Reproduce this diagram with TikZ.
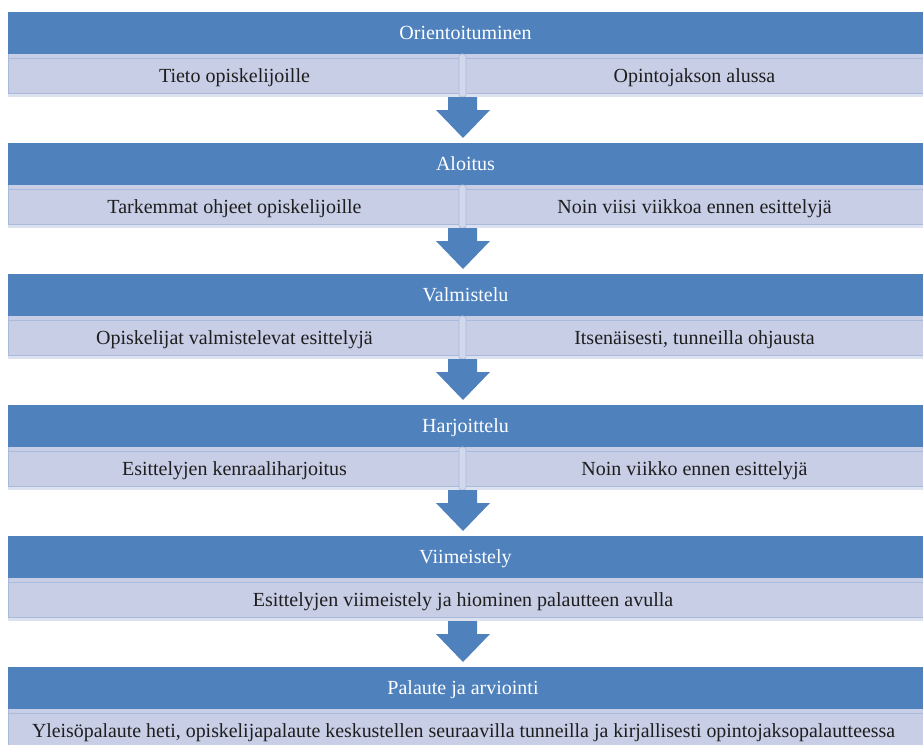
\documentclass[tikz,border=0pt]{standalone}
\usepackage{fontspec}
\setmainfont{Liberation Serif}
\usepackage{graphicx}
\definecolor{hdrblue}{HTML}{4F81BD}
\definecolor{rowfill}{HTML}{C7CEE6}
\definecolor{rowstrip}{HTML}{DCE1F0}
\definecolor{rowline}{HTML}{A9BADC}
\definecolor{divfill}{HTML}{D2D8EC}
\definecolor{txtdark}{HTML}{1E1E1E}
\begin{document}
\begin{tikzpicture}[x=1pt,y=-1pt,
  hdrtext/.style={anchor=base,text=white,font=\fontsize{20}{24}\selectfont,inner sep=0pt},
  rowtext/.style={anchor=base,text=txtdark,font=\fontsize{20}{24}\selectfont,inner sep=0pt},
  arrowshape/.style={fill=hdrblue},
  lineband/.style={draw=rowline,line width=0.8pt}]
\useasboundingbox (0,0) rectangle (923,744);
\begin{scope}
\clip (0,0) rectangle (923,744);
% two-column bands
\foreach \i/\ttl/\lft/\rgt in {0/Orientoituminen/Tieto opiskelijoille/Opintojakson alussa,
  1/Aloitus/Tarkemmat ohjeet opiskelijoille/Noin viisi viikkoa ennen esittelyjä,
  2/Valmistelu/Opiskelijat valmistelevat esittelyjä/{Itsenäisesti, tunneilla ohjausta},
  3/Harjoittelu/Esittelyjen kenraaliharjoitus/Noin viikko ennen esittelyjä}{
  \pgfmathsetmacro\T{12+131*\i}
  \fill[hdrblue] (8,\T) rectangle (925,{\T+42});
  \fill[rowfill] (8,{\T+42}) rectangle (925,{\T+85});
  \fill[rowstrip] (8,{\T+81}) rectangle (925,{\T+85});
  \draw[lineband] (8,{\T+46.5}) -- (925,{\T+46.5});
  \draw[lineband] (8,{\T+81}) -- (925,{\T+81});
  \draw[lineband] (8.4,{\T+42}) -- (8.4,{\T+81});
  \filldraw[fill=divfill,draw=rowline,line width=0.6pt,rounded corners=2.5pt] (459,{\T+42}) rectangle (466,{\T+85});
  \fill[arrowshape] (448,{\T+85}) -- (477,{\T+85}) -- (477,{\T+98}) -- (490,{\T+98}) -- (463,{\T+126}) -- (436,{\T+98}) -- (448,{\T+98}) -- cycle;
  \node[hdrtext] (h\i) at (465.5,{\T+27}) {\ttl};
  \node[rowtext] (l\i) at (234.5,{\T+70}) {\lft};
  \node[rowtext] (r\i) at (694.5,{\T+70}) {\rgt};
}
% band 5 (single column)
\pgfmathsetmacro\T{12+131*4}
\fill[hdrblue] (8,\T) rectangle (925,{\T+42});
\fill[rowfill] (8,{\T+42}) rectangle (925,{\T+85});
\fill[rowstrip] (8,{\T+81}) rectangle (925,{\T+85});
\draw[lineband] (8,{\T+46.5}) -- (925,{\T+46.5});
\draw[lineband] (8,{\T+81}) -- (925,{\T+81});
\draw[lineband] (8.4,{\T+42}) -- (8.4,{\T+81});
\fill[arrowshape] (448,{\T+85}) -- (477,{\T+85}) -- (477,{\T+98}) -- (490,{\T+98}) -- (463,{\T+126}) -- (436,{\T+98}) -- (448,{\T+98}) -- cycle;
\node[hdrtext] (h4) at (465.5,{\T+27}) {Viimeistely};
\node[rowtext] (l4) at (463,{\T+70}) {Esittelyjen viimeistely ja hiominen palautteen avulla};
% band 6 (last)
\pgfmathsetmacro\T{12+131*5}
\fill[hdrblue] (8,\T) rectangle (925,{\T+42});
\fill[rowfill] (8,{\T+42}) rectangle (925,{\T+90});
\draw[lineband] (8,{\T+46.5}) -- (925,{\T+46.5});
\draw[lineband] (8.4,{\T+42}) -- (8.4,{\T+90});
\node[hdrtext] (h5) at (463,{\T+27}) {Palaute ja arviointi};
\node[rowtext] (l5) at (463.5,{\T+70}) {\resizebox{863pt}{\height}{Yleisöpalaute heti, opiskelijapalaute keskustellen seuraavilla tunneilla ja kirjallisesti opintojaksopalautteessa}};
\end{scope}
\end{tikzpicture}
\end{document}
